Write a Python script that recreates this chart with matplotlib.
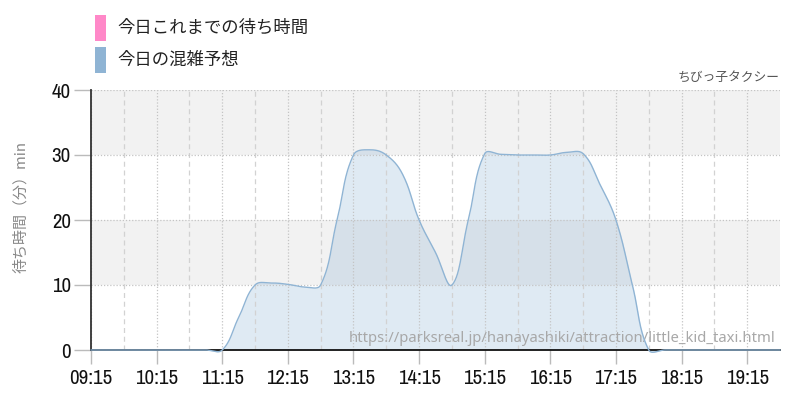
import matplotlib
matplotlib.use("Agg")
import matplotlib.pyplot as plt
import numpy as np
from matplotlib.patches import Rectangle
from matplotlib.ticker import FixedLocator
from matplotlib import font_manager as fm

# ---- data ----
times = ["09:15", "09:30", "09:45", "10:00", "10:15", "10:30", "10:45", "11:00",
         "11:15", "11:30", "11:45", "12:00", "12:15", "12:30", "12:45", "13:00",
         "13:15", "13:30", "13:45", "14:00", "14:15", "14:30", "14:45", "15:00",
         "15:15", "15:30", "15:45", "16:00", "16:15", "16:30", "16:45", "17:00",
         "17:15", "17:30", "17:45", "18:00", "18:15", "18:30", "18:45", "19:00",
         "19:15", "19:30", "19:45"]
forecast = [0, 0, 0, 0, 0, 0, 0, 0,
            0, 5, 10, 10.3, 10.1, 9.7, 10, 20,
            30, 30.8, 30, 27, 20, 15, 10, 20,
            30.2, 30.1, 30, 30, 30, 30.4, 30.2, 25.6,
            20, 10, 0, 0, 0, 0, 0, 0,
            0, 0, 0]
tick_labels = ["09:15", "10:15", "11:15", "12:15", "13:15", "14:15",
               "15:15", "16:15", "17:15", "18:15", "19:15"]
minor_labels = ["09:45", "10:45", "11:45", "12:45", "13:45", "14:45",
                "15:45", "16:45", "17:45", "18:45"]
y_ticks = [0, 10, 20, 30, 40]
legend_labels = ["今日これまでの待ち時間", "今日の混雑予想"]
legend_colors = ["#ff88c8", "#8fb4d4"]
title_right = "ちびっ子タクシー"
y_label = "待ち時間（分）min"
url_text = "https://parksreal.jp/hanayashiki/attraction/little_kid_taxi.html"

def to_h(s):
    h, m = s.split(":")
    return int(h) + int(m) / 60.0

x = np.array([to_h(t) for t in times])
y = np.array(forecast, dtype=float)

CJK = ["Noto Sans CJK JP", "DejaVu Sans"]

# pick a narrow / condensed font for the numeric tick labels if one exists
cands = []
for f in fm.fontManager.ttflist:
    nm = (f.name + " " + str(f.fname)).lower()
    st = str(f.stretch).lower()
    fn = str(f.fname).lower()
    if ("narrow" in nm or "condensed" in nm or st in ("condensed", "semi-condensed", "extra-condensed")) \
            and "bold" not in fn and "italic" not in fn and "oblique" not in fn \
            and f.weight in (400, "normal", "regular"):
        cands.append(f)
if cands:
    pref = sorted(cands, key=lambda f: (0 if "narrow" in f.name.lower() else 1 if "roboto" in f.name.lower() else 2))
    narrow_fp = fm.FontProperties(fname=pref[0].fname, size=15)
else:
    narrow_fp = fm.FontProperties(family=["Roboto", "DejaVu Sans"], size=14.5)

fig = plt.figure(figsize=(8, 4), dpi=100)
ax = fig.add_axes([91/800, 50/400, 689/800, 260/400])
xmin, xmax = to_h("09:15"), to_h("19:45")
ax.set_xlim(xmin, xmax)
ax.set_ylim(0, 40)

# background bands
for lo, hi, c in [(0, 10, "white"), (10, 20, "#f2f2f2"), (20, 30, "white"), (30, 40, "#f2f2f2")]:
    ax.axhspan(lo, hi, color=c, zorder=0, lw=0)

# Chart.js-like spline (tension 0.4) computed in pixel space
sx = 689 / (xmax - xmin)
sy = 260 / 40.0
px = (x - xmin) * sx
py = y * sy
t = 0.4
n = len(px)
cp_prev = np.zeros((n, 2)); cp_next = np.zeros((n, 2))
for i in range(n):
    p0 = np.array([px[max(i-1, 0)], py[max(i-1, 0)]])
    p1 = np.array([px[i], py[i]])
    p2 = np.array([px[min(i+1, n-1)], py[min(i+1, n-1)]])
    d01 = np.hypot(*(p1 - p0)); d12 = np.hypot(*(p2 - p1))
    tot = d01 + d12
    s01 = d01 / tot if tot > 0 else 0
    s12 = d12 / tot if tot > 0 else 0
    cp_prev[i] = p1 - t * s01 * (p2 - p0)
    cp_next[i] = p1 + t * s12 * (p2 - p0)
cx, cy = [], []
u = np.linspace(0, 1, 30)
for i in range(n - 1):
    P0 = np.array([px[i], py[i]]); P3 = np.array([px[i+1], py[i+1]])
    P1 = cp_next[i]; P2 = cp_prev[i+1]
    b = ((1-u)**3)[:, None]*P0 + (3*(1-u)**2*u)[:, None]*P1 + (3*(1-u)*u**2)[:, None]*P2 + (u**3)[:, None]*P3
    cx.extend(b[:, 0]); cy.extend(b[:, 1])
cx = np.array(cx) / sx + xmin
cy = np.array(cy) / sy

ax.fill_between(cx, cy, 0, color="#8fb4d4", alpha=0.28, lw=0, zorder=1, clip_on=False)
ax.plot(cx, cy, color="#8fb4d4", lw=1.0, zorder=6, clip_on=False)

# ticks and grid
ax.xaxis.set_major_locator(FixedLocator([to_h(s) for s in tick_labels]))
ax.xaxis.set_minor_locator(FixedLocator([to_h(s) for s in minor_labels]))
ax.set_xticklabels(tick_labels, fontproperties=narrow_fp, color="#111")
ax.set_yticks(y_ticks)
ax.set_yticklabels([str(v) for v in y_ticks], fontproperties=narrow_fp, color="#111")
ax.tick_params(axis="x", which="major", length=10, width=1, color="#bbbbbb", pad=3.5)
ax.tick_params(axis="x", which="minor", length=0)
ax.tick_params(axis="y", which="major", length=12, width=1, color="#bbbbbb", pad=2.5)
ax.grid(True, axis="x", which="major", color="#c4c4c4", ls=(0, (1, 1.5)), lw=0.9, zorder=3)
ax.grid(True, axis="x", which="minor", color="#d2d2d2", ls=(0, (4, 3)), lw=0.9, zorder=3)
ax.grid(True, axis="y", which="major", color="#c4c4c4", ls=(0, (1, 1.5)), lw=0.9, zorder=3)
ax.set_axisbelow(False)
for s in ["top", "right"]:
    ax.spines[s].set_visible(False)
ax.spines["left"].set_color("#333333"); ax.spines["left"].set_linewidth(1.3)
ax.spines["bottom"].set_color("#111111"); ax.spines["bottom"].set_linewidth(1.3)
ax.spines["left"].set_zorder(5); ax.spines["bottom"].set_zorder(5)

# y label
fig.text(21/800, 1 - 207/400, y_label, rotation=90, ha="center", va="center",
         family=CJK, fontsize=10.8, color="#888888")

# top-right title
fig.text(780/800, 1 - 77/400, title_right, ha="right", va="center",
         family=CJK, fontsize=9.2, color="#555555")

# watermark url
ax.text(0.993, 0.045, url_text, transform=ax.transAxes, ha="right", va="center",
        family=["Noto Sans", "DejaVu Sans"], fontsize=10.7, color="#a8a8a8", zorder=4)

# legend
for i, (lab, col) in enumerate(zip(legend_labels, legend_colors)):
    top = 15 + i * 32
    fig.patches.append(Rectangle((95/800, 1 - (top + 26)/400), 11/800, 26/400,
                                 transform=fig.transFigure, color=col, lw=0))
    fig.text(117/800, 1 - (top + 13)/400, lab, ha="left", va="center",
             family=CJK, fontsize=12.5, color="#222222")

fig.savefig("out.png", dpi=100)
